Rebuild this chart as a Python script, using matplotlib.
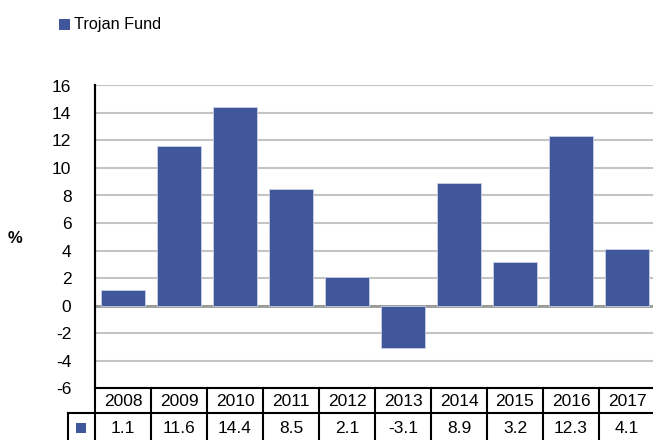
import matplotlib.pyplot as plt
from matplotlib.patches import Rectangle

# Données
years = ["2008", "2009", "2010", "2011", "2012", "2013", "2014", "2015", "2016", "2017"]
returns = [1.1, 11.6, 14.4, 8.5, 2.1, -3.1, 8.9, 3.2, 12.3, 4.1]
yticks = [-6, -4, -2, 0, 2, 4, 6, 8, 10, 12, 14, 16]
series_name = "Trojan Fund"

bar_color = "#41579B"
plt.rcParams['font.family'] = ['Liberation Sans', 'DejaVu Sans']

W, H = 653, 440
fig = plt.figure(figsize=(W / 100, H / 100), dpi=100)

ax_left, ax_right, ax_top, ax_bottom = 95, 655, 85.5, 388
ax = fig.add_axes([ax_left / W, 1 - ax_bottom / H, (ax_right - ax_left) / W, (ax_bottom - ax_top) / H])

x = list(range(len(years)))
ax.bar(x, returns, width=0.8, color=bar_color, edgecolor="#C8D0E6", linewidth=0.6, zorder=3)

ax.set_xlim(-0.5, len(years) - 0.5)
ax.set_ylim(-6, 16)
ax.set_yticks(yticks)
ax.set_yticklabels([str(t) for t in yticks], fontsize=12.5)
ax.tick_params(axis='y', length=0, pad=17)
ax.set_xticks([])
ax.grid(axis='y', color="#C4C4C4", linewidth=1.5, zorder=0)
ax.axhline(0, color="#9A9A9A", linewidth=2, zorder=2)

for s in ["top", "right", "bottom"]:
    ax.spines[s].set_visible(False)
ax.spines["left"].set_linewidth(1.5)
ax.spines["left"].set_color("black")

# Libellé de l'axe y
fig.text(15 / W, 1 - 238 / H, "%", fontsize=12, fontweight="bold", ha="center", va="center")

# Légende en haut
fig.patches.append(Rectangle((59 / W, 1 - 30.5 / H), 11 / W, 11 / H, transform=fig.transFigure,
                             facecolor=bar_color, edgecolor="none"))
fig.text(74 / W, 1 - 25 / H, series_name, fontsize=11.7, ha="left", va="center")

# Tableau de données sous le graphique (en pixels de la figure)
def px(xp, yp):
    return xp / W, 1 - yp / H

col_w = (ax_right - ax_left) / len(years)
row1_top, row2_top, row_bot = 388, 413, 450
lw = 1.5

def hline(y, x0, x1):
    fig.add_artist(plt.Line2D([x0 / W, x1 / W], [1 - y / H, 1 - y / H], color="black", linewidth=lw,
                              transform=fig.transFigure))

def vline(xp, y0, y1):
    fig.add_artist(plt.Line2D([xp / W, xp / W], [1 - y0 / H, 1 - y1 / H], color="black", linewidth=lw,
                              transform=fig.transFigure))

hline(row1_top, ax_left, ax_right)
hline(row2_top, 68, ax_right)
vline(ax_left, ax_top, row_bot)
vline(68, row2_top, row_bot)
for i in range(1, len(years) + 1):
    vline(ax_left + i * col_w, row1_top, row_bot)

for i, (yr, val) in enumerate(zip(years, returns)):
    cx = ax_left + (i + 0.5) * col_w
    fig.text(*px(cx, 401), yr, fontsize=12.5, ha="center", va="center")
    fig.text(*px(cx, 428), str(val), fontsize=12.5, ha="center", va="center")

fig.patches.append(Rectangle((76 / W, 1 - 433 / H), 10 / W, 10 / H, transform=fig.transFigure,
                             facecolor=bar_color, edgecolor="none"))

fig.savefig("out.png", dpi=100)
